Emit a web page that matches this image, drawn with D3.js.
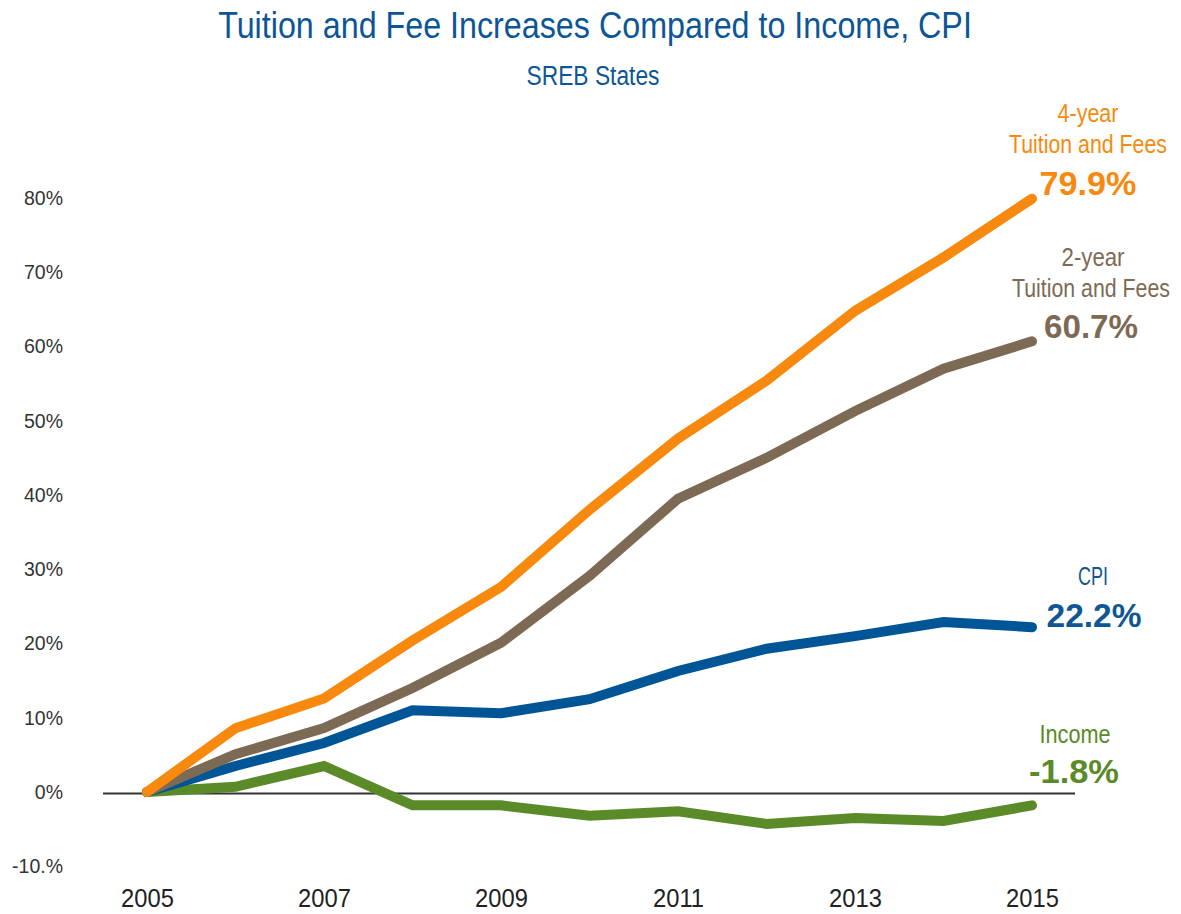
<!DOCTYPE html>
<html>
<head>
<meta charset="utf-8">
<script src="https://cdn.jsdelivr.net/npm/d3@7"></script>
<style>
  body { margin: 0; background: #fff; }
  svg text { font-family: "Liberation Sans", Arial, sans-serif; }
  .tick-y text { font-size: 19.5px; fill: #333; }
  .tick-x text { font-size: 25px; fill: #222; }
</style>
</head>
<body>
<div id="chart"></div>
<script>
// Data
const years = [2005, 2006, 2007, 2008, 2009, 2010, 2011, 2012, 2013, 2014, 2015];
const fourYear = [0, 8.6, 12.6, 20.4, 27.6, 38.0, 47.6, 55.4, 64.8, 72.0, 79.9];
const twoYear = [0, 5.1, 8.6, 14.0, 20.1, 29.1, 39.5, 45.0, 51.3, 57.0, 60.7];
const cpi = [0, 3.5, 6.6, 11.0, 10.6, 12.5, 16.3, 19.3, 21.0, 22.9, 22.2];
const income = [0, 0.7, 3.5, -1.8, -1.8, -3.2, -2.6, -4.3, -3.5, -3.9, -1.8];
const yTicks = [-10, 0, 10, 20, 30, 40, 50, 60, 70, 80];
const xTicks = [2005, 2007, 2009, 2011, 2013, 2015];

const W = 1181, H = 914;

const svg = d3.select("#chart").append("svg")
  .attr("width", W)
  .attr("height", H);

// Scales
const x = d3.scaleLinear().domain([2005, 2015]).range([147, 1032]);
const y = d3.scaleLinear().domain([0, 80]).range([792, 198]);

// Condensed-looking text: squeeze horizontally to a set width
function narrowText(parent, str, cx, by, size, width, color, bold) {
  const t = parent.append("text")
    .attr("x", 0).attr("y", 0)
    .attr("text-anchor", "middle")
    .style("font-size", size + "px")
    .style("font-weight", bold ? "bold" : "normal")
    .style("fill", color)
    .text(str);
  const sx = width / t.node().getComputedTextLength();
  t.attr("transform", `translate(${cx},${by}) scale(${sx},1)`);
  return t;
}

// Title
narrowText(svg, "Tuition and Fee Increases Compared to Income, CPI", 595, 38, 37, 754, "#0c5697");
narrowText(svg, "SREB States", 593, 85, 28, 133, "#0c5697");

// Y axis labels
const gY = svg.append("g")
  .attr("class", "tick-y")
  .attr("transform", "translate(63,0)")
  .call(d3.axisLeft(y).tickValues(yTicks).tickSize(0).tickPadding(0)
    .tickFormat(d => d === -10 ? "-10.%" : d + "%"));
gY.select(".domain").remove();

// X axis labels
const gX = svg.append("g")
  .attr("class", "tick-x")
  .attr("transform", "translate(0,907)")
  .call(d3.axisBottom(x).tickValues(xTicks).tickSize(0).tickPadding(0)
    .tickFormat(d3.format("d")));
gX.select(".domain").remove();
gX.selectAll("text")
  .attr("x", 0).attr("y", 0).attr("dy", 0)
  .attr("transform", "scale(0.95,1)");

// Zero line
svg.append("line")
  .attr("x1", 103).attr("x2", 1075)
  .attr("y1", y(0) + 1.5).attr("y2", y(0) + 1.5)
  .style("stroke", "#333")
  .style("stroke-width", 2);

// Lines
const series = [
  { values: income, color: "#5b8a28" },
  { values: cpi, color: "#005596" },
  { values: twoYear, color: "#7d6a55" },
  { values: fourYear, color: "#f7890e" }
];

const line = d3.line()
  .x((d, i) => x(years[i]))
  .y(d => y(d));

svg.append("g")
  .selectAll("path")
  .data(series)
  .enter()
  .append("path")
  .attr("d", d => line(d.values))
  .style("fill", "none")
  .style("stroke", d => d.color)
  .style("stroke-width", 10)
  .style("stroke-linecap", "round")
  .style("stroke-linejoin", "miter");

// End labels: [text, centre x, baseline y, width]
const labels = [
  { rows: [["4-year", 1088, 122, 61], ["Tuition and Fees", 1088, 153, 158]], value: ["79.9%", 1088, 195, 97], color: "#f7890e" },
  { rows: [["2-year", 1093, 266, 63], ["Tuition and Fees", 1091, 297, 158]], value: ["60.7%", 1091, 338, 94], color: "#7d6a55" },
  { rows: [["CPI", 1093, 585, 30]], value: ["22.2%", 1094, 627, 95], color: "#0f5793" },
  { rows: [["Income", 1075, 743, 71]], value: ["-1.8%", 1074, 783, 90], color: "#5b8a28" }
];

labels.forEach(l => {
  const g = svg.append("g");
  l.rows.forEach(r => narrowText(g, r[0], r[1], r[2], 25, r[3], l.color, false));
  narrowText(g, l.value[0], l.value[1], l.value[2], 33, l.value[3], l.color, true);
});
</script>
</body>
</html>
